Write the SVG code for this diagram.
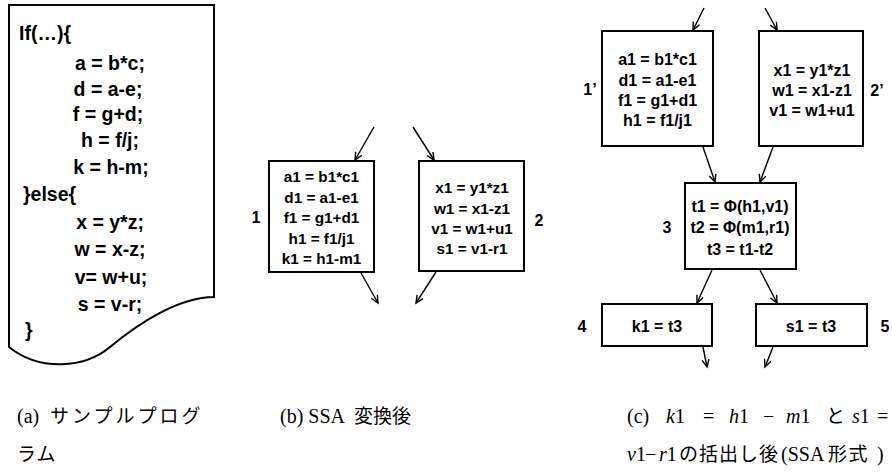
<svg xmlns="http://www.w3.org/2000/svg" width="892" height="474" viewBox="0 0 892 474">
<defs>
<marker id="ah" markerWidth="10" markerHeight="10" refX="8" refY="4" orient="auto" markerUnits="userSpaceOnUse">
<path d="M0.5,0.5 L8,4 L0.5,7.5" fill="none" stroke="#000" stroke-width="1.4"/>
</marker>
</defs>
<style>
.box{fill:#fff;stroke:#000;stroke-width:2}
.code{font-family:"Liberation Sans",Arial,sans-serif;font-weight:bold;fill:#000;dominant-baseline:central}
.c1{font-size:19.5px}
.c2{font-size:15.3px;text-anchor:middle}
.c3{font-size:16px;text-anchor:middle}
.lbl{font-size:16px;text-anchor:middle}
.edge{stroke:#000;stroke-width:1.4;fill:none;marker-end:url(#ah)}
.cap{font-family:"Liberation Serif","Times New Roman","Noto Sans CJK JP",serif;font-size:20px;fill:#000}
.jp{font-family:"Noto Sans CJK JP",sans-serif;font-size:19px}
.m{font-style:italic}
</style>

<g id="program">
<path class="box" d="M9,5 H214 V297 C180,297 140,322 110,347 C85,368 40,372 9,347 Z"/>
<text class="code c1" x="19" y="33">If(…){</text>
<g style="text-anchor:middle">
<text class="code c1" x="110" y="63">a = b*c;</text>
<text class="code c1" x="108" y="89">d = a-e;</text>
<text class="code c1" x="108" y="114">f = g+d;</text>
<text class="code c1" x="110" y="140">h = f/j;</text>
<text class="code c1" x="111" y="167">k = h-m;</text>
<text class="code c1" x="110" y="222">x = y*z;</text>
<text class="code c1" x="110" y="249">w = x-z;</text>
<text class="code c1" x="111" y="277">v= w+u;</text>
<text class="code c1" x="110" y="304">s = v-r;</text>
</g>
<text class="code c1" x="23" y="194">}else{</text>
<text class="code c1" x="25" y="330">}</text>
</g>

<g id="b1">
<rect class="box" x="269" y="161" width="105" height="111"/>
<text class="code c2" x="321.5" y="176">a1 = b1*c1</text>
<text class="code c2" x="321.5" y="197">d1 = a1-e1</text>
<text class="code c2" x="321.5" y="217">f1 = g1+d1</text>
<text class="code c2" x="321.5" y="238">h1 = f1/j1</text>
<text class="code c2" x="321.5" y="258">k1 = h1-m1</text>
<text class="code lbl" x="256" y="217">1</text>
</g>
<g id="b2">
<rect class="box" x="419" y="161" width="105" height="110"/>
<text class="code c2" x="472" y="187">x1 = y1*z1</text>
<text class="code c2" x="472" y="208">w1 = x1-z1</text>
<text class="code c2" x="472" y="228">v1 = w1+u1</text>
<text class="code c2" x="472" y="248">s1 = v1-r1</text>
<text class="code lbl" x="539" y="220">2</text>
</g>

<g id="c1">
<rect class="box" x="602" y="31" width="111" height="115"/>
<text class="code c3" x="657.5" y="59">a1 = b1*c1</text>
<text class="code c3" x="657.5" y="80">d1 = a1-e1</text>
<text class="code c3" x="657.5" y="100">f1 = g1+d1</text>
<text class="code c3" x="657.5" y="120">h1 = f1/j1</text>
<text class="code lbl" x="590" y="89">1’</text>
</g>
<g id="c2">
<rect class="box" x="759" y="31" width="104" height="115"/>
<text class="code c3" x="812" y="70">x1 = y1*z1</text>
<text class="code c3" x="812" y="90">w1 = x1-z1</text>
<text class="code c3" x="812" y="110">v1 = w1+u1</text>
<text class="code lbl" x="877" y="90">2’</text>
</g>
<g id="c3">
<rect class="box" x="685" y="183" width="111" height="86"/>
<text class="code c3" x="740" y="206">t1 = Φ(h1,v1)</text>
<text class="code c3" x="740" y="227">t2 = Φ(m1,r1)</text>
<text class="code c3" x="740" y="249">t3 = t1-t2</text>
<text class="code lbl" x="667" y="227">3</text>
</g>
<g id="c4">
<rect class="box" x="602" y="304" width="110" height="42"/>
<text class="code c3" x="657" y="326">k1 = t3</text>
<text class="code lbl" x="582" y="326">4</text>
</g>
<g id="c5">
<rect class="box" x="756" y="304" width="111" height="42"/>
<text class="code c3" x="811" y="326">s1 = t3</text>
<text class="code lbl" x="885" y="326">5</text>
</g>

<g id="connectors">
<line class="edge" x1="374" y1="127" x2="355" y2="160"/>
<line class="edge" x1="413" y1="127" x2="434" y2="160"/>
<line class="edge" x1="361" y1="273" x2="378" y2="303"/>
<line class="edge" x1="436" y1="272" x2="416" y2="303"/>
<line class="edge" x1="704" y1="8" x2="693" y2="30"/>
<line class="edge" x1="765" y1="8" x2="777" y2="30"/>
<line class="edge" x1="703" y1="147" x2="715" y2="182"/>
<line class="edge" x1="773" y1="147" x2="760" y2="182"/>
<line class="edge" x1="712" y1="270" x2="697" y2="303"/>
<line class="edge" x1="760" y1="270" x2="777" y2="303"/>
<line class="edge" x1="703" y1="347" x2="707" y2="367"/>
<line class="edge" x1="773" y1="347" x2="765" y2="367"/>
</g>

<g id="captions">
<text class="cap" x="17" y="423">(a)<tspan class="jp" x="50" style="letter-spacing:3px">サンプルプログ</tspan></text>
<text class="cap" x="17" y="461"><tspan class="jp" style="letter-spacing:1px">ラム</tspan></text>
<text class="cap" x="280" y="423">(b) SSA<tspan class="jp" x="354">変換後</tspan></text>
<text class="cap" y="423"><tspan x="627">(c)</tspan><tspan class="m" x="666">k</tspan>1<tspan x="703">=</tspan><tspan class="m" x="729">h</tspan>1<tspan x="763">−</tspan><tspan class="m" x="786">m</tspan>1<tspan class="jp" x="826">と</tspan><tspan class="m" x="852">s</tspan>1<tspan x="877">=</tspan></text>
<text class="cap" y="461"><tspan class="m" x="627">v</tspan>1<tspan x="645">−</tspan><tspan class="m" x="659">r</tspan>1<tspan class="jp" x="679" style="letter-spacing:1px">の括出し後</tspan><tspan x="781">(SSA</tspan><tspan class="jp" x="828" style="letter-spacing:1.5px">形式</tspan><tspan x="877">)</tspan></text>
</g>
</svg>
